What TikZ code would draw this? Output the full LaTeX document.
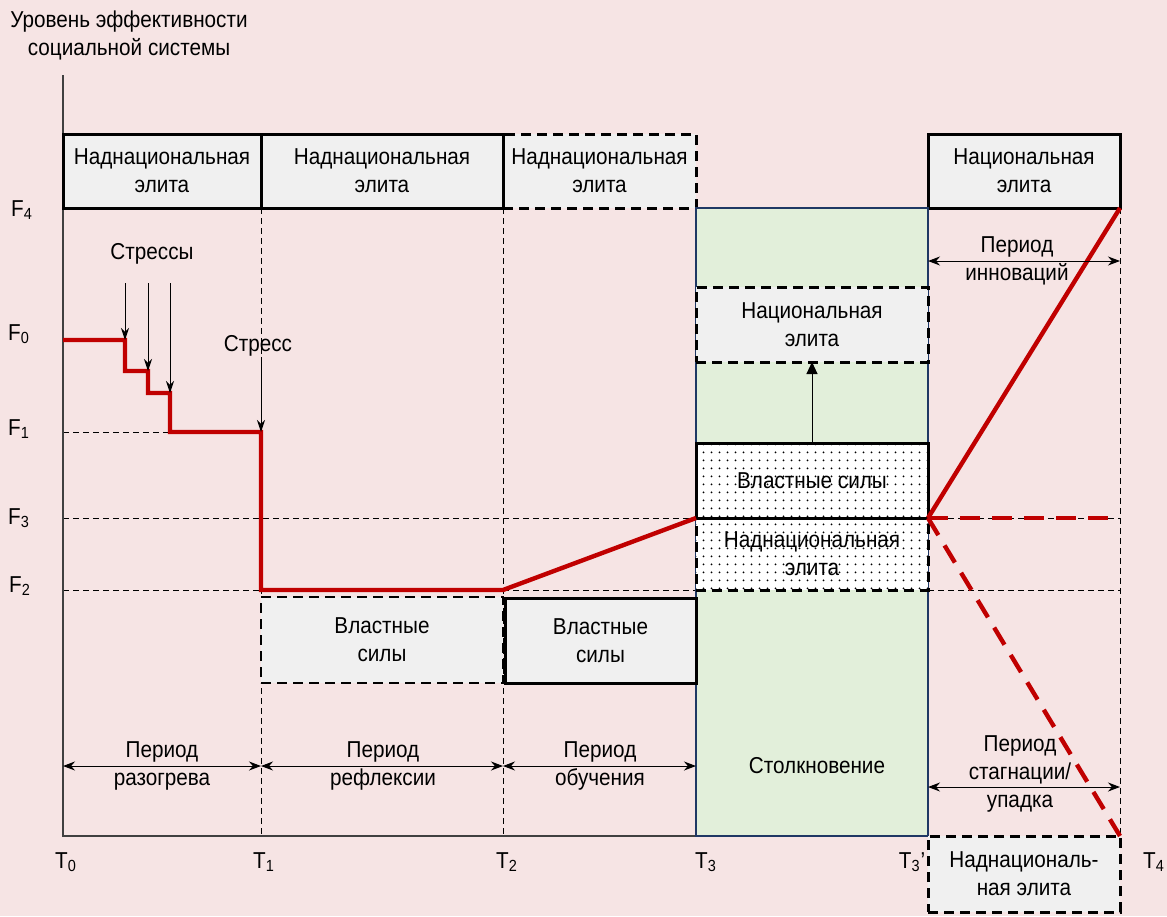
\documentclass[tikz,border=0pt]{standalone}
\usepackage{fontspec}
\setmainfont{Liberation Sans}[FakeStretch=0.9]
\usetikzlibrary{arrows.meta, patterns.meta}
\definecolor{bgpink}{RGB}{246,228,228}
\definecolor{boxgrey}{RGB}{240,240,240}
\definecolor{clashgreen}{RGB}{226,239,218}
\definecolor{clashborder}{RGB}{31,56,100}
\definecolor{curvered}{RGB}{192,0,0}
\definecolor{axisgrey}{RGB}{64,64,64}
\tikzset{
  label_font/.style = {font=\fontsize{11.5}{14}\selectfont},
  lbl/.style = {label_font, align=center, inner sep=0},
  elite/.style = {label_font, align=center, inner sep=0, outer sep=0, fill=boxgrey},
  solid_box/.style = {elite, draw, line width=1.5pt},
  dashed_box/.style = {elite, draw, line width=1.5pt, dash pattern=on 5pt off 3pt},
  dotted_box/.style = {label_font, align=center, inner sep=0, outer sep=0, draw, line width=1.5pt,
    preaction={fill=white}, pattern={Dots[distance=4pt, radius=0.55pt]}},
  clash_box/.style = {fill=clashgreen, draw=clashborder, line width=0.6pt, inner sep=0, outer sep=0}
}
\tikzset{
  grid_line/.style = {line width=0.45pt, dash pattern=on 3pt off 2pt},
  axis_line/.style = {axisgrey, line width=0.6pt},
  red_curve/.style = {curvered, line width=2.2pt},
  red_dashed/.style = {red_curve, dash pattern=on 10pt off 6pt},
  span_arrow/.style = {line width=0.5pt, {Stealth[length=6pt, width=4.5pt]}-{Stealth[length=6pt, width=4.5pt]}},
  stress_arrow/.style = {line width=0.5pt, -{Stealth[length=6pt, width=4pt]}},
  rise_arrow/.style = {line width=0.5pt, -{Triangle[length=6pt, width=5.5pt]}}
}
\begin{document}
\begin{tikzpicture}[x=0.5pt, y=-0.5pt]
    % Canvas
    \fill[bgpink] (0,0) rectangle (1167,916);
    \useasboundingbox (0,0) rectangle (1167,916);

    % Marks on the axes
    \coordinate (o) at (63,836);
    \coordinate (ytop) at (63,75);
    \coordinate (t1) at (261,836);
    \coordinate (t2) at (503,836);
    \coordinate (t3) at (696,836);
    \coordinate (t3p) at (928,836);
    \coordinate (t4) at (1120,836);
    \coordinate (f4) at (63,208);
    \coordinate (f0) at (63,340);
    \coordinate (f1) at (63,432);
    \coordinate (f3) at (63,518);
    \coordinate (f2) at (63,590);

    % Steps of the curve
    \coordinate (st1) at (125,340);
    \coordinate (st2) at (148,371);
    \coordinate (st3) at (170,393);
    \coordinate (strtop) at (0,283);

    % Grid
    \draw[grid_line] (t1 |- f4)--(t1);
    \draw[grid_line] (t2 |- f4)--(t2);
    \draw[grid_line] (t4 |- f4)--(t4);
    \draw[grid_line] (f1)--(st3 |- f1);
    \draw[grid_line] (f3)--(t3 |- f3);
    \draw[grid_line] (t3p |- f3)--(t4 |- f3);
    \draw[grid_line] (f2)--(t3 |- f2);
    \draw[grid_line] (t3p |- f2)--(t4 |- f2);
    \draw[axis_line] (ytop)--(o)--(t3p);

    % Axis labels
    \node[lbl] (ttl) at (129,35) {Уровень эффективности\\социальной системы};
    \node[lbl] (lf4) at (22,210) {F\textsubscript{4}};
    \node[lbl] (lf0) at (19,334) {F\textsubscript{0}};
    \node[lbl] (lf1) at (19,429) {F\textsubscript{1}};
    \node[lbl] (lf3) at (19,518) {F\textsubscript{3}};
    \node[lbl] (lf2) at (20,586) {F\textsubscript{2}};
    \node[lbl] (lt0) at (66,862) {T\textsubscript{0}};
    \node[lbl] (lt1) at (264,862) {T\textsubscript{1}};
    \node[lbl] (lt2) at (507,862) {T\textsubscript{2}};
    \node[lbl] (lt3) at (706,862) {T\textsubscript{3}};
    \node[lbl] (lt3p) at (912,862) {T\textsubscript{3}’};
    \node[lbl] (lt4) at (1154,862) {T\textsubscript{4}};

    % Elites on top
    \node[dashed_box, minimum width=96.5pt, minimum height=37pt] (nad3) at (599.5,171) {
        Наднациональная\\элита};
    \node[solid_box, minimum width=99pt, minimum height=37pt] (nad1) at (162,171) {
        Наднациональная\\элита};
    \node[solid_box, minimum width=121pt, minimum height=37pt] (nad2) at (382,171) {
        Наднациональная\\элита};
    \node[solid_box, minimum width=96pt, minimum height=37pt] (nat1) at (1024,171) {
        Национальная\\элита};

    % Clash
    \node[clash_box, minimum width=116pt, minimum height=314pt] (clash) at (812,522) {};
    \node[lbl] (clashtxt) at (817,766) {Столкновение};
    \node[dashed_box, minimum width=116pt, minimum height=37.5pt] (nat2) at (812,324.5) {
        Национальная\\элита};
    \node[dotted_box, dash pattern=on 5pt off 3pt, minimum width=116pt, minimum height=36pt] (nad4) at (812,554) {
        Наднациональная\\элита};
    \node[dotted_box, minimum width=116pt, minimum height=37.5pt] (pow3) at (812,480.5) {
        Властные силы};
    \draw[rise_arrow] (pow3.north)--(nat2.south);

    % Powers below
    \node[dashed_box, line width=1.2pt, minimum width=121pt, minimum height=43pt] (pow1) at (382,640) {
        Властные\\силы};
    \node[solid_box, minimum width=95.5pt, minimum height=42.5pt] (pow2) at (600.5,640.5) {
        Властные\\силы};
    \node[dashed_box, minimum width=96pt, minimum height=38pt] (nad5) at (1024,874) {
        Наднациональ-\\ная элита};

    % Curve
    \draw[red_curve] (f0)--(st1)--(st1 |- st2)--(st2)--(st2 |- st3)--(st3)--(st3 |- f1)
        --(t1 |- f1)--(t1 |- f2)--(t2 |- f2)--(t3 |- f3);
    \draw[red_curve] (t3p |- f3)--(t4 |- f4);
    \draw[red_dashed] (t3p |- f3)--(t4 |- f3);
    \draw[red_dashed] (t3p |- f3)--(t4);

    % Stresses
    \node[lbl] (stresses) at (152,254) {Стрессы};
    \draw[stress_arrow] (strtop -| st1)--(st1);
    \draw[stress_arrow] (strtop -| st2)--(st2);
    \draw[stress_arrow] (strtop -| st3)--(st3);
    \node[lbl] (stress) at (258,346) {Стресс};
    \draw[stress_arrow] (stress.south -| t1)--(t1 |- f1);

    % Periods
    \node[lbl] (per1) at (162,766) {Период\\разогрева};
    \draw[span_arrow] (o |- per1)--(t1 |- per1);
    \node[lbl] (per2) at (383,766) {Период\\рефлексии};
    \draw[span_arrow] (t1 |- per2)--(t2 |- per2);
    \node[lbl] (per3) at (600,766) {Период\\обучения};
    \draw[span_arrow] (t2 |- per3)--(t3 |- per3);
    \node[lbl] (per4) at (1017,261) {Период\\инноваций};
    \draw[span_arrow] (t3p |- per4)--(t4 |- per4);
    \coordinate (a5) at (1020,787);
    \node[lbl, yshift=6.5pt] (per5) at (a5) {Период\\стагнации/\\упадка};
    \draw[span_arrow] (t3p |- a5)--(t4 |- a5);
\end{tikzpicture}
\end{document}
